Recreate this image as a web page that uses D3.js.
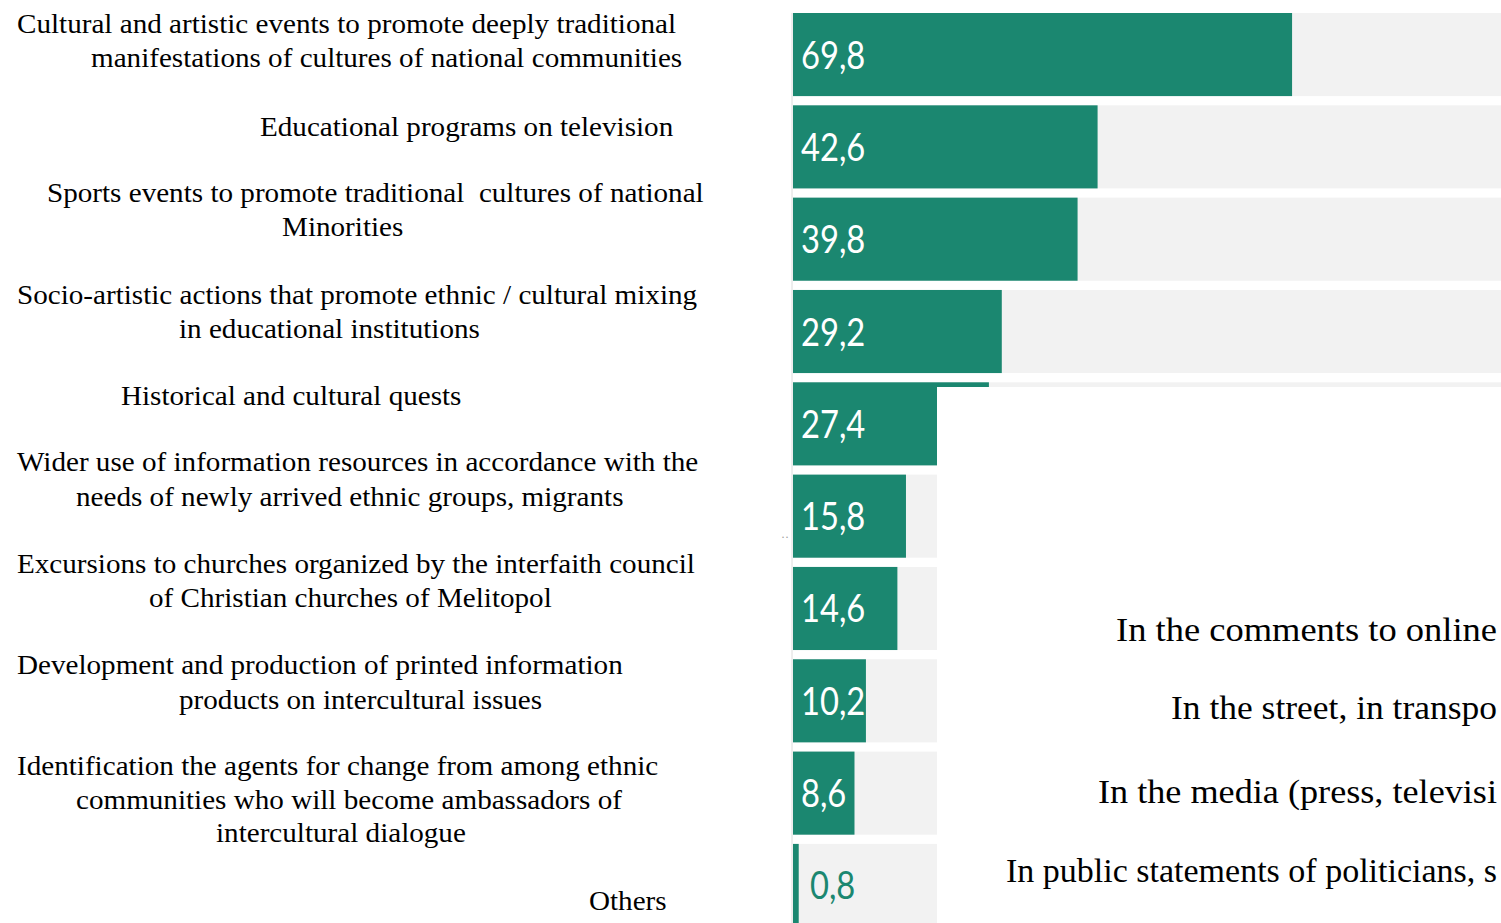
<!DOCTYPE html>
<html><head><meta charset="utf-8">
<script src="https://cdn.jsdelivr.net/npm/d3@7"></script>
<style>html,body{margin:0;padding:0;background:#fff;overflow:hidden}</style>
</head><body>
<script>
// ---- data ----
const categories = [
  "Cultural and artistic events to promote deeply traditional manifestations of cultures of national communities",
  "Educational programs on television",
  "Sports events to promote traditional cultures of national Minorities",
  "Socio-artistic actions that promote ethnic / cultural mixing in educational institutions",
  "Historical and cultural quests",
  "Wider use of information resources in accordance with the needs of newly arrived ethnic groups, migrants",
  "Excursions to churches organized by the interfaith council of Christian churches of Melitopol",
  "Development and production of printed information products on intercultural issues",
  "Identification the agents for change from among ethnic communities who will become ambassadors of intercultural dialogue",
  "Others"
];
const values = [69.8, 42.6, 39.8, 29.2, 27.4, 15.8, 14.6, 10.2, 8.6, 0.8];
const valueLabels = ["69,8","42,6","39,8","29,2","27,4","15,8","14,6","10,2","8,6","0,8"];
const labelLines = [
  ["Cultural and artistic events to promote deeply traditional","manifestations of cultures of national communities"],
  ["Educational programs on television"],
  ["Sports events to promote traditional  cultures of national","Minorities"],
  ["Socio-artistic actions that promote ethnic / cultural mixing","in educational institutions"],
  ["Historical and cultural quests"],
  ["Wider use of information resources in accordance with the","needs of newly arrived ethnic groups, migrants"],
  ["Excursions to churches organized by the interfaith council","of Christian churches of Melitopol"],
  ["Development and production of printed information","products on intercultural issues"],
  ["Identification the agents for change from among ethnic","communities who will become ambassadors of","intercultural dialogue"],
  ["Others"]
];
// fragments of an overlapping text block, as visible in the picture
const overlayTexts = [
  "In the comments to online",
  "In the street, in transpo",
  "In the media (press, televisi",
  "In public statements of politicians, s"
];

// ---- layout (styles/positions, not data) ----
const W = 1501, H = 923;
const labelX = [[17,91],[260],[47,282],[17,179],[121],[17,76],[17,149],[17,179],[17,76,216],[589]];
const labelBase = [[33,67],[136],[202,236],[304,338],[405],[471,506],[573,607],[674,709],[775,809,842],[910]];
const overlayX = [1116,1171,1098,1006];
const overlayBase = [641,719,803,882];
const overlayRight = 1497;
const labelFont = 28;
const stretch = 1.12 * 26 / labelFont;

const svg = d3.select("body").append("svg").attr("width", W).attr("height", H);

const x = d3.scaleLinear().domain([0, 100]).range([793, 1508]);
const y = d3.scaleBand().domain(d3.range(categories.length)).range([13, 927]).paddingInner(0.1).paddingOuter(0);

// grey background rows
svg.append("g").selectAll("rect").data(values).join("rect")
  .attr("x", x(0)).attr("y", (d,i) => y(i))
  .attr("width", W - x(0)).attr("height", y.bandwidth())
  .attr("fill", "#f2f2f2");

// bars
svg.append("g").selectAll("rect").data(values).join("rect")
  .attr("x", x(0)).attr("y", (d,i) => y(i))
  .attr("width", d => x(d) - x(0)).attr("height", y.bandwidth())
  .attr("fill", "#1b8770");

// faint left axis line
svg.append("line").attr("x1", x(0) - 1).attr("x2", x(0) - 1).attr("y1", y(0)).attr("y2", H)
  .attr("stroke", "#dcdcdc").attr("stroke-width", 1);

// value labels
const vl = svg.append("g").selectAll("text").data(values).join("text")
  .attr("x", (d,i) => x(0) + (d < 3 ? 17 : 8))
  .attr("y", (d,i) => y(i) + y.bandwidth() / 2 + 14)
  .attr("fill", d => d < 3 ? "#1b8770" : "#ffffff")
  .attr("font-family", "Lato, 'Open Sans', sans-serif")
  .attr("font-weight", 400)
  .attr("font-size", 38)
  .text((d,i) => valueLabels[i]);
vl.each(function(){ const w = this.getComputedTextLength(); d3.select(this).attr("textLength", w * 0.86).attr("lengthAdjust","spacingAndGlyphs"); });

// category labels
const lg = svg.append("g").attr("font-family", "'Liberation Serif', 'Times New Roman', serif").attr("font-size", labelFont).attr("fill", "#000");
labelLines.forEach((lines, i) => {
  lines.forEach((ln, j) => {
    const t = lg.append("text").attr("x", labelX[i][j]).attr("y", labelBase[i][j]).attr("xml:space","preserve").text(ln);
    const w = t.node().getComputedTextLength();
    t.attr("textLength", w * stretch).attr("lengthAdjust", "spacingAndGlyphs");
  });
});

// small dots artefact
svg.append("text").attr("x", 781).attr("y", 541).attr("font-size", 12).attr("fill", "#999").text("··");

// white overlay panel (overlapping document region)
svg.append("rect").attr("x", 937).attr("y", 387).attr("width", W - 937).attr("height", H - 387).attr("fill", "#ffffff");

// overlay texts
const og = svg.append("g").attr("font-family", "'Liberation Serif', 'Times New Roman', serif").attr("font-size", 34).attr("fill", "#000");
overlayTexts.forEach((t, i) => {
  og.append("text").attr("x", overlayX[i]).attr("y", overlayBase[i]).text(t)
    .attr("textLength", overlayRight - overlayX[i]).attr("lengthAdjust", "spacingAndGlyphs");
});
</script>
</body></html>
